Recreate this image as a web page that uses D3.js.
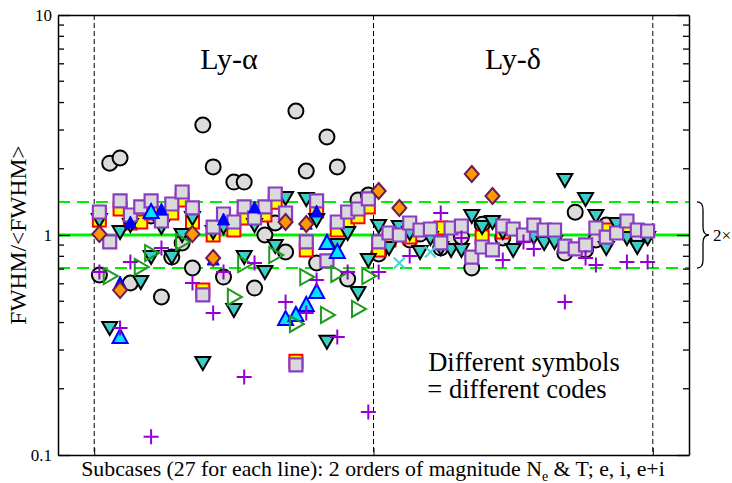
<!DOCTYPE html>
<html><head><meta charset="utf-8">
<script src="https://cdn.jsdelivr.net/npm/d3@7"></script>
<style>body{margin:0;background:#fff}svg{display:block}</style>
</head><body><svg id="c" width="732" height="483"></svg>
<script>
// ---- data ----
const lines = ["Ly-α", "Ly-δ"];
const subcasesPerLine = 27;
const yTickLabels = ["0.1", "1", "10"];
const yMajor = [0.1, 1, 10];
const bandRatio = Math.SQRT2; // dashed band = factor 2 overall
// one array per code: [Ly-α 27 subcases, Ly-δ 27 subcases]
const circles = [
 [0.658,2.12,2.24,0.605,1.17,1.22,0.523,0.794,0.92,0.708,3.16,2.04,0.644,1.74,1.74,0.574,1.0,1.134,0.837,3.66,1.954,0.746,2.79,2.04,0.631,1.443,1.52],
 [0.82,null,null,0.949,1.01,null,0.873,0.969,0.979,0.708,1.12,null,0.969,null,null,null,null,null,0.828,1.27,0.855,0.949,1.11,null,null,1.0,null]];
const redSquares = [
 [1.17,null,1.313,1.134,1.146,1.259,null,1.259,1.443,1.146,0.562,1.0,null,1.054,1.195,null,1.233,1.41,null,0.267,0.855,1.285,null,1.054,1.146,1.21,1.341],
 [0.855,0.949,null,0.979,null,null,1.076,null,null,null,0.979,null,1.032,null,null,null,null,null,null,null,null,null,1.054,null,1.065,null,null]];
const downTriangles = [
 [1.17,0.378,1.032,1.11,0.611,0.794,1.087,0.794,1.0,1.195,0.262,1.032,1.087,0.456,0.794,1.11,0.679,0.891,1.473,null,1.458,1.17,0.327,0.901,1.021,0.545,0.77],
 [1.099,0.873,1.087,1.021,0.837,0.969,0.873,0.855,0.855,1.22,1.087,1.146,1.032,0.855,null,0.979,0.92,0.93,1.778,null,1.458,1.22,0.873,1.122,0.969,0.882,0.969]];
const graySquares = [
 [1.272,0.93,1.428,1.233,1.341,1.428,1.158,1.383,1.568,1.327,0.534,1.087,1.246,1.146,1.341,1.195,1.341,1.536,1.259,0.257,0.93,1.428,0.762,1.146,1.272,1.313,1.458],
 [0.93,1.021,1.0,1.134,1.054,1.065,0.92,1.076,1.099,0.794,0.882,0.855,1.099,1.065,1.0,1.11,1.054,1.054,0.891,0.864,0.901,1.076,0.979,1.021,1.158,1.054,1.043]];
const blueTriangles = [
 [null,null,0.605,1.134,null,null,1.299,null,null,null,null,0.77,1.17,null,null,1.327,null,null,null,null,1.12,1.272,null,null,null,null,null],
 new Array(27).fill(null)];
const diamonds = [
 [1.01,null,0.562,null,null,null,null,null,null,1.01,null,0.786,null,null,null,null,null,null,1.146,null,1.122,null,null,null,null,null,null],
 [1.585,null,1.327,null,null,null,null,null,null,1.893,null,1.504,null,null,null,null,null,null,null,null,null,null,null,null,null,null,null]];
const cyanTriangles = [
 [null,null,0.344,null,null,1.272,null,null,null,null,null,null,null,null,null,null,null,null,0.415,0.433,0.481,0.551,0.92,0.837,null,null,null],
 new Array(27).fill(null)];
const openTriangles = [
 [null,0.651,null,null,0.716,0.828,null,null,0.93,null,null,null,null,0.523,0.738,null,null,0.811,null,0.394,0.644,null,0.433,0.665,null,0.461,0.651],
 new Array(27).fill(null)];
const pluses = [
 [0.679,null,0.378,0.754,null,0.121,0.873,null,null,0.605,null,0.442,0.679,null,0.226,0.746,null,null,0.496,null,0.442,0.625,null,0.344,0.679,null,0.157],
 [0.679,null,null,0.803,null,null,1.259,null,0.969,null,null,null,0.77,null,0.93,0.864,null,null,0.496,null,0.786,0.731,null,null,0.754,null,0.754]];
const crosses = [
 new Array(27).fill(null),
 [null,null,0.746,null,null,0.837,null,null,null,null,null,null,null,null,null,null,null,null,null,null,null,null,null,null,null,null,null]];

// ---- layout ----
const FONT = "'Liberation Serif', 'Times New Roman', 'DejaVu Serif', serif";
const svg = d3.select("#c");
const L = 58, R = 689, T = 15, B = 455;
const x = d3.scaleLinear().domain([0, 61]).range([L, R]);
const y = d3.scaleLog().domain([0.1, 10]).range([B, T]);
const pos = (li, i) => li * subcasesPerLine + i + 4; // subcase position in x units
const sepPos = [3.5, 30.5, 57.5];

// reference lines
const g0 = svg.append("g");
g0.append("line").attr("x1", L).attr("x2", R).attr("y1", y(1)).attr("y2", y(1))
  .attr("stroke", "#00ee00").attr("stroke-width", 3);
[bandRatio, 1 / bandRatio].forEach(v => g0.append("line").attr("x1", L).attr("x2", R)
  .attr("y1", y(v)).attr("y2", y(v)).attr("stroke", "#00ee00").attr("stroke-width", 2)
  .attr("stroke-dasharray", "12,7"));
sepPos.forEach(p => g0.append("line").attr("x1", x(p)).attr("x2", x(p)).attr("y1", T).attr("y2", B)
  .attr("stroke", "#000").attr("stroke-width", 1).attr("stroke-dasharray", "5,3"));

// axes
const minors = [];
[0.1, 1].forEach(b => { for (let k = 2; k <= 9; k++) minors.push(b * k); });
const gL = svg.append("g").attr("transform", `translate(${L},0)`)
  .call(d3.axisLeft(y).tickValues(yMajor).tickFormat((d, i) => yTickLabels[i]).tickSizeInner(-12).tickSizeOuter(0).tickPadding(6));
const gR = svg.append("g").attr("transform", `translate(${R},0)`)
  .call(d3.axisRight(y).tickValues(yMajor).tickFormat("").tickSizeInner(-12).tickSizeOuter(0));
[gL, gR].forEach((g, s) => {
  g.selectAll(".minor").data(minors).join("line").attr("class", "minor")
   .attr("x1", 0).attr("x2", s === 0 ? 6 : -6).attr("y1", d => y(d)).attr("y2", d => y(d)).attr("stroke", "#000").attr("stroke-width", 1.3);
  g.select(".domain").attr("stroke-width", 1.5);
  g.selectAll(".tick line").attr("stroke-width", 1.3);
});
gL.selectAll(".tick text").attr("font-size", 17).attr("font-family", FONT);
const gB = svg.append("g").attr("transform", `translate(0,${B})`)
  .call(d3.axisBottom(x).tickValues(sepPos).tickFormat("").tickSizeInner(-7).tickSizeOuter(0));
gB.select(".domain").attr("stroke-width", 1.5);
const gT = svg.append("g").attr("transform", `translate(0,${T})`)
  .call(d3.axisTop(x).tickValues([]).tickSizeOuter(0));
gT.select(".domain").attr("stroke-width", 1.5);

// markers
const shapes = {
  circle: "M-7.5,0A7.5,7.5 0 1,0 7.5,0A7.5,7.5 0 1,0 -7.5,0Z",
  square: "M-6.5,-6.5H6.5V6.5H-6.5Z",
  down: "M-7.5,-6L7.5,-6L0,7Z",
  up: "M0,-8L7.5,6L-7.5,6Z",
  upSmall: "M0,-7L6,5L-6,5Z",
  diamond: "M0,-8L7,0L0,8L-7,0Z",
  right: "M-6,-8L8,0L-6,8Z",
  plus: "M-7.5,0H7.5M0,-7.5V7.5",
  cross: "M-5.5,-5.5L5.5,5.5M-5.5,5.5L5.5,-5.5"
};
const series = [
  {data: circles, shape: "circle", fill: "#dcdcdc", stroke: "#000", sw: 2},
  {data: redSquares, shape: "square", fill: "#ffff00", stroke: "#ff0000", sw: 2},
  {data: downTriangles, shape: "down", fill: "#3ccfc6", stroke: "#000", sw: 2},
  {data: graySquares, shape: "square", fill: "#d9d9d9", stroke: "#8a3cc4", sw: 2.2},
  {data: blueTriangles, shape: "upSmall", fill: "#0000ff", stroke: "#0000ff", sw: 1},
  {data: diamonds, shape: "diamond", fill: "#ff9900", stroke: "#6e1a58", sw: 2},
  {data: cyanTriangles, shape: "up", fill: "#00e5ff", stroke: "#0000ff", sw: 2},
  {data: openTriangles, shape: "right", fill: "none", stroke: "#1e9a1e", sw: 2},
  {data: pluses, shape: "plus", fill: "none", stroke: "#9400d3", sw: 2},
  {data: crosses, shape: "cross", fill: "none", stroke: "#40d8d8", sw: 2}
];
series.forEach(s => {
  const pts = [];
  s.data.forEach((arr, li) => arr.forEach((v, i) => { if (v != null) pts.push({u: pos(li, i), v}); }));
  svg.append("g").selectAll("path").data(pts).join("path")
    .attr("transform", d => `translate(${x(d.u)},${y(d.v)})`)
    .attr("d", shapes[s.shape]).attr("fill", s.fill).attr("stroke", s.stroke).attr("stroke-width", s.sw);
});

// labels
const txt = (xx, yy, size, t, anchor = "middle") => svg.append("text").attr("x", xx).attr("y", yy)
  .attr("text-anchor", anchor).attr("font-size", size).attr("font-family", FONT).attr("fill", "#000").text(t);
txt(229, 69, 30, lines[0]);
txt(513, 69, 30, lines[1]);
txt(524, 371, 26.5, "Different symbols");
txt(517, 398, 26.5, "= different codes");
svg.append("text").attr("transform", `translate(26,${y(1)}) rotate(-90)`).attr("text-anchor", "middle")
  .attr("font-size", 23.5).attr("font-family", FONT).text("FWHM/<FWHM>");
const xl = svg.append("text").attr("x", 373).attr("y", 476).attr("text-anchor", "middle")
  .attr("font-size", 21.8).attr("font-family", FONT);
xl.append("tspan").text("Subcases (27 for each line): 2 orders of magnitude N");
xl.append("tspan").attr("dy", 5).attr("font-size", 14).text("e");
xl.append("tspan").attr("dy", -5).text(" & T; e, i, e+i");
// factor-of-2 bracket
const bx = 697, yt = y(bandRatio), yb = y(1 / bandRatio), ym = y(1);
svg.append("path").attr("d", `M${bx},${yt} Q${bx + 6},${yt} ${bx + 6},${yt + 8} L${bx + 6},${ym - 8} Q${bx + 6},${ym} ${bx + 12},${ym} Q${bx + 6},${ym} ${bx + 6},${ym + 8} L${bx + 6},${yb - 8} Q${bx + 6},${yb} ${bx},${yb}`)
  .attr("fill", "none").attr("stroke", "#000").attr("stroke-width", 1.3);
txt(713, y(1) + 6, 17, "2×", "start");
</script></body></html>
